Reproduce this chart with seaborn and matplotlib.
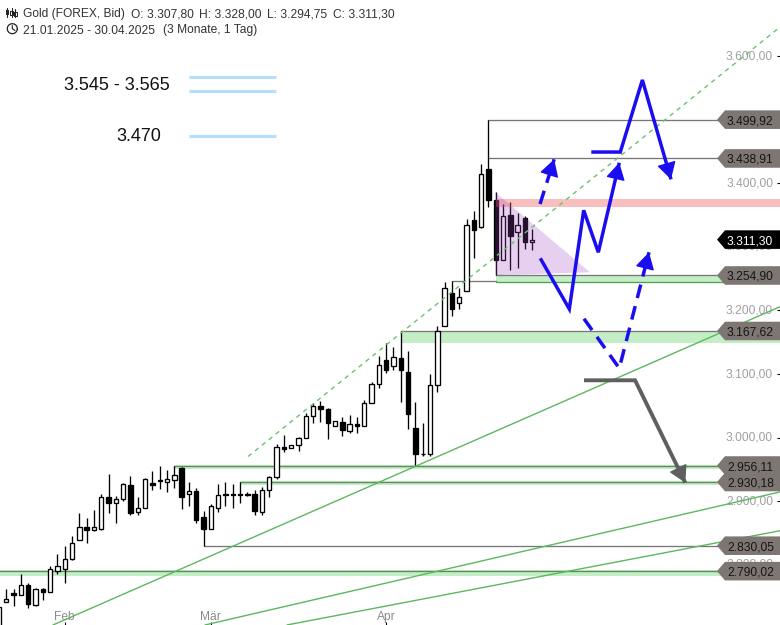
import matplotlib
matplotlib.use('Agg')
import matplotlib.pyplot as plt
import numpy as np
import seaborn as sns
from matplotlib.lines import Line2D
from matplotlib.patches import Polygon

# daily candles, index -1 is 21.01.2025
idx = list(range(-1, 73))
opens = [2700, 2742, 2756, 2752, 2768, 2737, 2761.5, 2757, 2791, 2793,
         2809, 2838.5, 2859, 2854, 2856, 2906, 2897, 2903, 2925, 2882.5,
         2890, 2928, 2933, 2930, 2933, 2952, 2912, 2916, 2875, 2856,
         2890, 2911, 2911, 2911, 2911, 2911, 2882.5, 2917, 2938, 2986,
         2983, 2988, 2999, 3033.5, 3049, 3044.5, 3019, 3024, 3010, 3021,
         3019, 3054, 3085, 3121.5, 3112, 3125, 3103, 3015, 2975, 2975,
         3082, 3175, 3227, 3211, 3230, 3342, 3331, 3423, 3373, 3279,
         3349.5, 3324, 3345, 3307.8]
highs = [2746, 2762, 2762, 2785, 2772, 2763, 2763, 2798, 2816.5, 2829,
         2845, 2881, 2873, 2886, 2911, 2943, 2908, 2928, 2939, 2906,
         2936, 2947, 2955, 2949, 2956.11, 2953, 2930, 2920, 2884, 2895,
         2927, 2930, 2927, 2930.18, 2914, 2917, 2922, 2939, 2990, 3004,
         2988, 3001, 3038, 3054, 3057, 3046, 3026, 3032, 3035, 3032,
         3059, 3087, 3128, 3148, 3142, 3167.62, 3136, 3055.5, 3022.5, 3099.5,
         3175, 3244, 3246, 3235, 3343, 3357, 3430, 3499.92, 3386, 3367,
         3370, 3353, 3348, 3328]
lows = [2695, 2742, 2736, 2752, 2732, 2735, 2745, 2757, 2785.5, 2772,
        2807, 2838.5, 2835, 2853, 2854, 2882, 2865, 2901, 2878, 2878,
        2890, 2918, 2919, 2914, 2920, 2888, 2892, 2865, 2830.05, 2856,
        2882.5, 2892, 2889, 2897, 2908, 2879, 2878, 2906, 2934.5, 2977,
        2983, 2979, 2999, 3023, 3025, 2998, 3019, 3003, 3008, 3008,
        3018, 3054, 3077.5, 3101, 3106, 3055.5, 3013, 2955, 2971, 2971,
        3071, 3175, 3191, 3202, 3230, 3282, 3329, 3362, 3254.9, 3279,
        3263, 3266, 3297, 3294.75]
closes = [2733, 2747, 2753, 2769, 2739, 2761.5, 2758, 2793, 2798, 2809,
          2834, 2859, 2854, 2859, 2906, 2897, 2903, 2927, 2881, 2889,
          2934.5, 2925, 2931, 2934.5, 2941, 2907, 2916, 2870, 2856, 2892,
          2909, 2909, 2909, 2909, 2909, 2884, 2917, 2938, 2986, 2982,
          2988, 2999, 3033.5, 3049, 3044.5, 3022.5, 3026, 3011.5, 3021, 3019,
          3054, 3084, 3114, 3106, 3126, 3106, 3037, 2975, 2974, 3082,
          3167, 3236, 3202, 3221, 3335, 3326, 3414, 3373, 3280, 3348,
          3317.5, 3334, 3307, 3311.3]

y_ticks = [3600, 3500, 3400, 3300, 3200, 3100, 3000, 2900, 2800]
y_tick_labels = ['3.600,00', '3.500,00', '3.400,00', '3.300,00', '3.200,00', '3.100,00', '3.000,00', '2.900,00', '2.800,00']
x_ticks = [8, 28, 52]
x_tick_labels = ['Feb', 'Mär', 'Apr']

tag_values = [3499.92, 3438.91, 3254.90, 3167.62, 2956.11, 2930.18, 2830.05, 2790.02]
tag_labels = ['3.499,92', '3.438,91', '3.254,90', '3.167,62', '2.956,11', '2.930,18', '2.830,05', '2.790,02']
last_price = 3311.30
last_label = '3.311,30'

# level lines: value, first candle, colour
level_values = [3499.92, 3438.91, 3254.90, 3245.8, 3167.62, 2956.11, 2930.18, 2830.05, 2790.02]
level_starts = [66, 66, 67, 61, 54, 23, 32, 27, -1]
level_ends = [106, 106, 106, 67, 106, 106, 106, 106, 106]
level_colors = ['#777777', '#777777', '#777777', '#777777', '#777777', '#5e8a5e', '#5e8a5e', '#777777', '#5e8a5e']

band_lows = [3244.3, 3148.7, 2950.6, 2925.5, 2782.9]
band_highs = [3254.9, 3167.6, 2956.9, 2931.8, 2791.8]
band_starts = [67, 54, 23, 32, -1]

trend_x = [[6.39, 105.91], [27.2, 105.91], [38.42, 105.91]]
trend_y = [[2705.4, 3205.8], [2705.4, 2914.6], [2705.4, 2853.6]]
channel_x = [33.09, 105.91]
channel_y = [2970.3, 3645.6]

triangle_x = [66.94, 79.9, 66.94]
triangle_y = [3385.7, 3259.9, 3255.6]

# hand drawn scenario paths
blue1_x = [73.1, 77.07, 79.04, 81.04, 83.91]
blue1_y = [3281.9, 3202.2, 3357.4, 3291.4, 3432.2]
blue2_x = [80.08, 84.05, 87.07, 90.99]
blue2_y = [3449, 3449, 3562.3, 3406.1]
dash1_x = [73.06, 75.0]
dash1_y = [3367.3, 3437.6]
dash2_x = [79.08, 83.91, 87.98]
dash2_y = [3186.9, 3109, 3291.4]
gray_x = [79.08, 86.07, 92.95]
gray_y = [3090.1, 3090.1, 2929]

guide_levels = [3566.5, 3545, 3475]

sns.set_theme(style='white')
plt.rcParams['font.family'] = ['Liberation Sans', 'DejaVu Sans']

fig = plt.figure(figsize=(7.8, 6.25), dpi=100)
ax = fig.add_axes([0, 0, 1, 1])
ax.set_xlim(-0.862, 105.91)
ax.set_ylim(2705.36, 3688.05)
ax.set_axisbelow(True)
sns.despine(ax=ax, left=True, bottom=True, right=True, top=True)
ax.yaxis.tick_right()
ax.set_yticks(y_ticks)
ax.set_yticklabels(y_tick_labels)
ax.tick_params(axis='y', right=True, direction='in', length=2.5, width=0.8, pad=-5, colors='black', labelcolor='#a0a0a0', labelsize=8.64)
for t in ax.get_yticklabels():
    t.set_ha('right')
    t.set_va('center')
ax.set_xticks(x_ticks)
ax.set_xticklabels(x_tick_labels)
ax.tick_params(axis='x', bottom=True, direction='in', length=2.5, width=0.8, pad=-10, colors='black', labelcolor='#8a8a8a', labelsize=8.64)

for lo, hi, st in zip(band_lows, band_highs, band_starts):
    ax.fill_between([st, 106], lo, hi, color='#c4efc6', lw=0, zorder=1)

opens_a = np.array(opens)
closes_a = np.array(closes)
up = closes_a >= opens_a
ax.vlines(idx, lows, highs, color='black', lw=0.95, zorder=3)
ax.bar(idx, np.abs(closes_a - opens_a), bottom=np.minimum(opens_a, closes_a), width=0.6,
       color=['white' if u else 'black' for u in up], edgecolor='black', linewidth=0.95, zorder=4)

for v, a, b, c in zip(level_values, level_starts, level_ends, level_colors):
    ax.plot([a, b], [v, v], color=c, lw=0.95, zorder=2.5)
ax.plot([67, 106], [3244.3, 3244.3], color='#4f9f55', lw=0.95, zorder=2.5)

ax.fill_between([67, 106], 3363, 3375.2, color='#f05050', alpha=0.36, lw=0, zorder=5)
ax.add_patch(Polygon(list(zip(triangle_x, triangle_y)), closed=True, fc='#a040c0', alpha=0.25, ec='none', zorder=5))

for tx, ty in zip(trend_x, trend_y):
    sns.lineplot(x=tx, y=ty, ax=ax, color='#5cb85f', linewidth=1.0, sort=False, estimator=None, legend=False, zorder=5.5)
sns.lineplot(x=channel_x, y=channel_y, ax=ax, color='#6cc070', linewidth=1.0, linestyle=(0, (3.2, 3.2)),
             sort=False, estimator=None, legend=False, zorder=5.5)


def path(xs, ys, color, dashed=False, lw=2.5):
    ls = (0, (4.0, 2.4)) if dashed else '-'
    sns.lineplot(x=xs, y=ys, ax=ax, color=color, linewidth=lw, linestyle=ls, sort=False, estimator=None,
                 legend=False, zorder=6, solid_joinstyle='miter', solid_capstyle='butt', dash_capstyle='butt')
    tail = (xs[-1] - 0.2 * (xs[-1] - xs[-2]), ys[-1] - 0.2 * (ys[-1] - ys[-2]))
    ax.annotate('', xy=(xs[-1], ys[-1]), xytext=tail, zorder=6,
                arrowprops=dict(arrowstyle='-|>,head_length=1.05,head_width=0.6', mutation_scale=10,
                                color=color, lw=1, shrinkA=0, shrinkB=0))


blue = '#1a0df0'
path(blue1_x, blue1_y, blue)
path(blue2_x, blue2_y, blue)
path(dash1_x, dash1_y, blue, dashed=True)
path(dash2_x, dash2_y, blue, dashed=True)
path(gray_x, gray_y, '#5f5f5f', lw=2.8)

for lv in guide_levels:
    ax.plot([25.02, 36.93], [lv, lv], color='#b3dffa', lw=2.2, zorder=2, solid_capstyle='butt')
ax.text(15.15, 3554.4, '3.545 - 3.565', fontsize=13, color='#111111', ha='center', va='center')
ax.text(18.1, 3474.2, '3.470', fontsize=13, color='#111111', ha='center', va='center')


def tag(v, label, fc, tc):
    hh = 14.6
    pts = [(97.29, v), (98.38, v + hh), (106, v + hh), (106, v - hh), (98.38, v - hh)]
    ax.add_patch(Polygon(pts, closed=True, fc=fc, ec='none', zorder=8))
    ax.text(98.65, v, label, fontsize=8.64, color=tc, ha='left', va='center_baseline', zorder=9)


for v, lab in zip(tag_values, tag_labels):
    tag(v, lab, '#7d7672', '#151515')
tag(last_price, last_label, 'black', 'white')

# header
head = [(23, 13, 'Gold (FOREX, Bid)'), (131, 13, 'O: 3.307,80'), (199, 13, 'H: 3.328,00'), (267, 13, 'L: 3.294,75'),
        (333, 13, 'C: 3.311,30'), (23, 29, '21.01.2025 - 30.04.2025'), (163, 29, '(3 Monate, 1 Tag)')]
for hx, hy, s in head:
    fig.text(hx / 780, 1 - hy / 625, s, fontsize=8.64, color='#333333', ha='left', va='center_baseline')


# little icons in the header, given in pixels from the top left
def icon_line(xs, ys, lw=0.8):
    fig.add_artist(Line2D(np.array(xs) / 780, 1 - np.array(ys) / 625, color='#222222', lw=lw))


for cx, t0, b0, t1, b1 in [(7, 8, 17, 10, 14), (11.5, 8, 17, 11, 15), (15.5, 9, 17, 12, 16)]:
    icon_line([cx, cx], [t0, b0])
    icon_line([cx - 1.3, cx + 1.3, cx + 1.3, cx - 1.3, cx - 1.3], [t1, t1, b1, b1, t1], lw=0.7)
th = np.linspace(0, 2 * np.pi, 40)
icon_line(12.3 + 5 * np.cos(th), 28.7 + 5 * np.sin(th), lw=0.9)
icon_line([12.3, 12.3, 15], [25.5, 28.7, 30.5])

fig.savefig('out.png', dpi=100, facecolor='white')
